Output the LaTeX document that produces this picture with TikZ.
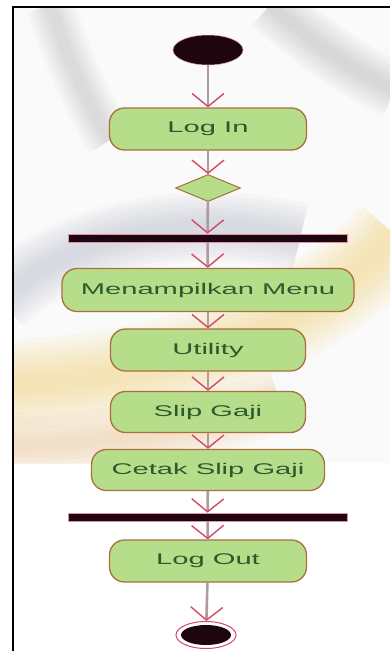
\documentclass[tikz,border=0pt]{standalone}
\usepackage{fontspec}
\setmainfont{Liberation Sans}
\usepackage{graphicx}
\usetikzlibrary{shapes.geometric,arrows.meta}
\definecolor{boxfill}{HTML}{B6DE8A}
\definecolor{boxline}{HTML}{A8703F}
\definecolor{txtgreen}{HTML}{2C5A2C}
\definecolor{connline}{HTML}{B09A9C}
\definecolor{tipred}{HTML}{D24A6A}
\definecolor{barblack}{HTML}{1E0610}
\definecolor{wmgray}{HTML}{A9B0C2}
\definecolor{wmyellow}{HTML}{F5D98C}
\definecolor{wmorange}{HTML}{F2C48E}
\tikzset{
  actbox/.style={shape=rectangle, rounded corners=15pt, fill=boxfill, draw=boxline, line width=1.3pt,
    inner sep=0pt, text=txtgreen, font=\fontsize{15.5}{18}\selectfont},
  syncbar/.style={shape=rectangle, fill=barblack, draw=tipred!60, line width=0.6pt, minimum width=279pt,
    minimum height=8pt, inner sep=0pt},
  conn/.style={draw=connline, line width=2.6pt,
    -{Straight Barb[length=13pt,width=32pt,color=tipred,line width=1.4pt]}},
}
\newcommand{\stretchtxt}[1]{\scalebox{1.88}[1]{#1}}
\begin{document}
\begin{tikzpicture}[x=1pt,y=-1pt]
\useasboundingbox (0,0) rectangle (390,651);
\fill[white] (0,0) rectangle (390,651);
% watermark background
\begin{scope}
\clip (13,7) rectangle (390,463);
\fill[gray!4] (13,7) rectangle (390,463);
\foreach \w in {70,62,54,46,38,30,22,14}{
  \draw[wmgray, line width=\w pt, opacity=0.06] (0,300) .. controls (80,228) and (200,214) .. (300,238);
  \draw[gray, line width=0.7*\w pt, opacity=0.03] (50,5) .. controls (65,50) and (85,100) .. (110,140);
  \draw[gray, line width=0.8*\w pt, opacity=0.035] (270,5) .. controls (310,40) and (350,70) .. (395,90);
  \draw[wmyellow, line width=1.3*\w pt, opacity=0.1] (395,235) .. controls (330,310) and (200,380) .. (0,385);
  \draw[wmorange, line width=0.9*\w pt, opacity=0.07] (0,445) .. controls (100,445) and (200,430) .. (280,400);
}
\end{scope}
% frame
\draw[black, line width=1.6pt] (13,651) -- (13,7) -- (390,7);
% nodes
\node[shape=ellipse, fill=barblack, draw=tipred!50, line width=0.5pt, minimum width=70pt, minimum height=30pt, inner sep=0pt] (start) at (208,50) {};
\node[actbox, minimum width=197pt, minimum height=42pt] (login) at (208,129) {\stretchtxt{Log In}};
\node[shape=diamond, fill=boxfill, draw=boxline, line width=1pt, shape aspect=2.4, minimum width=65pt, minimum height=27pt, inner sep=0pt] (dec) at (208,188) {};
\node[syncbar] (bar1) at (207.5,238) {};
\node[actbox, minimum width=292pt, minimum height=43pt] (menu) at (208,290) {\stretchtxt{Menampilkan Menu}};
\node[actbox, minimum width=195pt, minimum height=42pt] (util) at (208,350) {\stretchtxt{Utility}};
\node[actbox, minimum width=195pt, minimum height=41pt] (slip) at (208,412) {\stretchtxt{Slip Gaji}};
\node[actbox, minimum width=233pt, minimum height=41pt] (cetak) at (208,470) {\stretchtxt{Cetak Slip Gaji}};
\node[syncbar] (bar2) at (207.5,517) {};
\node[actbox, minimum width=197pt, minimum height=42pt] (logout) at (208,561) {\stretchtxt{Log Out}};
\node[shape=ellipse, fill=white, draw=tipred, line width=1pt, minimum width=60pt, minimum height=27pt, inner sep=0pt] (end) at (206,635) {};
\node[shape=ellipse, fill=barblack, minimum width=50pt, minimum height=20pt, inner sep=0pt] (endin) at (end.center) {};
% connectors
\draw[conn] (start) -- (login);
\draw[conn] (login) -- (dec);
\draw[conn] (dec) -- (bar1);
\draw[conn] (bar1) -- (menu);
\draw[conn] (menu) -- (util);
\draw[conn] (util) -- (slip);
\draw[conn] (slip) -- (cetak);
\draw[conn] (cetak) -- (bar2);
\draw[conn] (bar2) -- (logout);
\draw[conn] (logout) -- (end);
\end{tikzpicture}
\end{document}
